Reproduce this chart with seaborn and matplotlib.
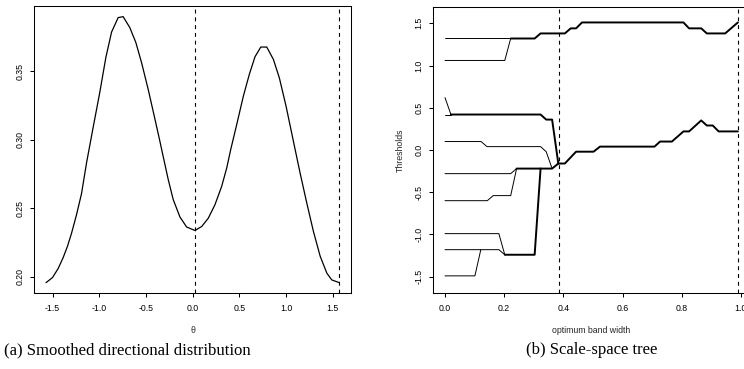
import numpy as np
import pandas as pd
import matplotlib
matplotlib.use("Agg")
import matplotlib.pyplot as plt
import seaborn as sns

# ---------------- data: panel (a) smoothed directional distribution ----------------
theta = [-1.571, -1.502, -1.442, -1.388, -1.341, -1.298, -1.245, -1.191, -1.137,
         -1.066, -0.995, -0.930, -0.869, -0.798, -0.745, -0.673, -0.608, -0.547,
         -0.476, -0.415, -0.358, -0.315, -0.262, -0.208, -0.136, -0.064, 0.025,
         0.097, 0.168, 0.239, 0.311, 0.365, 0.408, 0.472, 0.543, 0.607, 0.668,
         0.730, 0.794, 0.865, 0.929, 1.001, 1.079, 1.151, 1.223, 1.294, 1.366,
         1.438, 1.491, 1.571]
density = [0.1956, 0.1993, 0.2058, 0.2138, 0.2222, 0.2316, 0.2450, 0.2605, 0.2830,
           0.3090, 0.3345, 0.3600, 0.3785, 0.3891, 0.3898, 0.3818, 0.3708, 0.3561,
           0.3366, 0.3183, 0.3010, 0.2875, 0.2710, 0.2562, 0.2435, 0.2362, 0.2337,
           0.2366, 0.2427, 0.2525, 0.2659, 0.2793, 0.2928, 0.3110, 0.3317, 0.3476,
           0.3605, 0.3676, 0.3676, 0.3586, 0.3451, 0.3244, 0.2990, 0.2757, 0.2537,
           0.2330, 0.2150, 0.2025, 0.1976, 0.1956]
thresholds_a = [0.03, 1.573]
xticks_a = [-1.5, -1.0, -0.5, 0.0, 0.5, 1.0, 1.5]
yticks_a = [0.20, 0.25, 0.30, 0.35]

# ---------------- data: panel (b) scale-space tree ----------------
# thin branches (single paths) and thick trunks (merged paths)
branch_x = {
    "u1": [0.0, 0.222],
    "u2": [0.0, 0.202, 0.222],
    "c":  [0.0, 0.020],
    "d":  [0.0, 0.020],
    "e":  [0.0, 0.122, 0.142, 0.323, 0.342, 0.362],
    "f":  [0.0, 0.222, 0.242],
    "g":  [0.0, 0.143, 0.163, 0.222, 0.242],
    "h":  [0.0, 0.182, 0.202],
    "i":  [0.0, 0.182, 0.202],
    "j":  [0.0, 0.101, 0.121],
}
branch_y = {
    "u1": [1.32, 1.32],
    "u2": [1.06, 1.06, 1.32],
    "c":  [0.62, 0.42],
    "d":  [0.42, 0.42],
    "e":  [0.10, 0.10, 0.04, 0.04, -0.02, -0.22],
    "f":  [-0.28, -0.28, -0.22],
    "g":  [-0.60, -0.60, -0.54, -0.54, -0.22],
    "h":  [-0.99, -0.99, -1.24],
    "i":  [-1.18, -1.18, -1.24],
    "j":  [-1.49, -1.49, -1.18],
}
trunk_x = {
    "upper": [0.222, 0.303, 0.323, 0.405, 0.425, 0.443, 0.463, 0.806, 0.825,
              0.866, 0.885, 0.947, 0.990],
    "cd":    [0.020, 0.323, 0.342, 0.362, 0.383],
    "fg":    [0.242, 0.362, 0.383],
    "hi":    [0.202, 0.303, 0.323],
    "lower": [0.383, 0.405, 0.443, 0.502, 0.524, 0.708, 0.727, 0.767, 0.806,
              0.825, 0.866, 0.885, 0.905, 0.925, 0.990],
}
trunk_y = {
    "upper": [1.32, 1.32, 1.38, 1.38, 1.44, 1.44, 1.51, 1.51, 1.44,
              1.44, 1.38, 1.38, 1.51],
    "cd":    [0.42, 0.42, 0.36, 0.36, -0.16],
    "fg":    [-0.22, -0.22, -0.16],
    "hi":    [-1.24, -1.24, -0.22],
    "lower": [-0.16, -0.16, -0.02, -0.02, 0.04, 0.04, 0.10, 0.10, 0.22,
              0.22, 0.35, 0.29, 0.29, 0.22, 0.22],
}
thresholds_b = [0.3845, 0.9895]
xticks_b = [0.0, 0.2, 0.4, 0.6, 0.8, 1.0]
yticks_b = [-1.5, -1.0, -0.5, 0.0, 0.5, 1.0, 1.5]

# ---------------- styling ----------------
sns.set_style("ticks")
plt.rcParams["font.family"] = ["Liberation Sans", "DejaVu Sans"]
plt.rcParams["axes.linewidth"] = 0.75
plt.rcParams["xtick.major.width"] = 0.75
plt.rcParams["ytick.major.width"] = 0.75

W, H = 744, 369
fig = plt.figure(figsize=(W / 100, H / 100), dpi=100)

def frac(l, t, r, b):
    return [l / W, 1 - b / H, (r - l) / W, (b - t) / H]

ax1 = fig.add_axes(frac(34.3, 6.0, 351.0, 293.3))
ax2 = fig.add_axes(frac(433.3, 6.7, 749.6, 293.3))

dash = (0, (3.5, 3.5))
TS = 6.3

# panel (a)
df_a = pd.DataFrame({"theta": theta, "density": density})
sns.lineplot(data=df_a, x="theta", y="density", ax=ax1, color="black",
             lw=0.9, sort=False, estimator=None)
for t in thresholds_a:
    ax1.axvline(t, color="black", lw=0.8, ls=dash)
xr = max(theta) - min(theta)
yr = max(density) - min(density)
ax1.set_xlim(min(theta) - 0.04 * xr, max(theta) + 0.04 * xr)
ax1.set_ylim(min(density) - 0.04 * yr, max(density) + 0.04 * yr)
ax1.set_xticks(xticks_a)
ax1.set_xticklabels([f"{v:.1f}" for v in xticks_a])
ax1.set_yticks(yticks_a)
ax1.set_yticklabels([f"{v:.2f}" for v in yticks_a], rotation=90, va="center")
ax1.set_xlabel("θ", fontsize=TS, labelpad=9)
ax1.set_ylabel("")

# panel (b)
for k in branch_x:
    sns.lineplot(x=branch_x[k], y=branch_y[k], ax=ax2, color="black", lw=0.7,
                 sort=False, estimator=None)
for k in trunk_x:
    sns.lineplot(x=trunk_x[k], y=trunk_y[k], ax=ax2, color="black", lw=1.4,
                 sort=False, estimator=None)
for t in thresholds_b:
    ax2.axvline(t, color="black", lw=0.8, ls=dash)
allx = [v for d in (branch_x, trunk_x) for a in d.values() for v in a]
xr2 = max(allx) - min(allx)
ax2.set_xlim(min(allx) - 0.04 * xr2, max(allx) + 0.04 * xr2)
yl = np.pi / 2
ax2.set_ylim(-yl - 0.08 * yl, yl + 0.08 * yl)
ax2.set_xticks(xticks_b)
ax2.set_xticklabels([f"{v:.1f}" for v in xticks_b])
ax2.set_yticks(yticks_b)
ax2.set_yticklabels([f"{v:.1f}" for v in yticks_b], rotation=90, va="center")
ax2.set_xlabel("optimum band width", fontsize=TS, labelpad=9)
ax2.set_ylabel("Thresholds", fontsize=TS, labelpad=7)

for ax in (ax1, ax2):
    for s in ax.spines.values():
        s.set_visible(True)
        s.set_color("black")
        s.set_linewidth(0.75)
    ax.tick_params(axis="both", direction="out", length=3, width=0.75,
                   labelsize=TS, colors="black", pad=5)
    ax.tick_params(axis="y", pad=4)

# captions
cap = dict(family=["Liberation Serif", "DejaVu Serif"], fontsize=12,
           ha="center", va="center", color="black")
fig.text(127.5 / W, 1 - 350 / H, "(a) Smoothed directional distribution", **cap)
fig.text(592 / W, 1 - 350 / H, "(b) Scale-space tree", **cap)

fig.savefig("out.png", dpi=100)
